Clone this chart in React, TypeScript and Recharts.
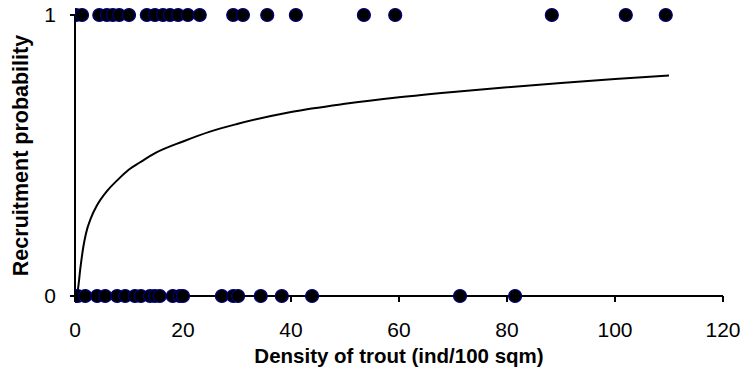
import React from "react";
import {
  ComposedChart,
  Line,
  Scatter,
  XAxis,
  YAxis,
} from "recharts";

// densities where recruitment was observed (y = 1)
const recruitedDensity = [
  0.2, 1.3, 4.5, 5.9, 7.0, 8.2, 10.0, 13.3, 14.8, 16.3, 17.6, 19.1, 20.9, 23.1,
  29.3, 31.1, 35.6, 40.9, 53.5, 59.3, 88.3, 102.0, 109.4,
];

// densities without recruitment (y = 0)
const notRecruitedDensity = [
  0.0, 0.5, 1.9, 4.1, 5.6, 7.8, 9.3, 11.1, 12.2, 13.9, 14.8, 15.7, 18.1, 19.4,
  20.0, 27.2, 29.3, 30.2, 34.4, 38.3, 43.9, 71.3, 81.5,
];

// fitted curve
const curveDensity = [0, 0.5, 1, 1.5, 2, 3, 4, 6, 8, 10, 12, 15, 20, 25, 30, 40, 50, 60, 70, 80, 90, 100, 110];
const curveProb = [0, 0.02, 0.1, 0.17, 0.22, 0.28, 0.32, 0.375, 0.415, 0.45, 0.475, 0.51, 0.55, 0.585, 0.612, 0.655, 0.684, 0.707, 0.726, 0.743, 0.758, 0.772, 0.785];

const xTicks = [0, 20, 40, 60, 80, 100, 120];
const yTicks = [0, 1];

const font = "'Liberation Sans', Arial, sans-serif";

const pointsOne = recruitedDensity.map((x) => ({ x, y: 1 }));
const pointsZero = notRecruitedDensity.map((x) => ({ x, y: 0 }));
const curve = curveDensity.map((x, i) => ({ x, y: curveProb[i] }));

const Dot = (props: any) => {
  const { cx, cy } = props;
  if (cx == null || cy == null) return <g />;
  return <circle cx={cx} cy={cy} r={6.5} fill="#000000" stroke="#000080" strokeWidth={1.2} />;
};

export default function App() {
  return (
    <div style={{ position: "absolute", left: 0, top: 0, fontFamily: font }}>
      <ComposedChart
        width={742}
        height={380}
        margin={{ top: 15, right: 19, bottom: 54, left: 15 }}
      >
        <XAxis
          type="number"
          dataKey="x"
          domain={[0, 120]}
          ticks={xTicks}
          allowDataOverflow
          height={30}
          stroke="#000"
          strokeWidth={2}
          tickSize={6}
          tickMargin={20}
          tick={{ fill: "#000", fontSize: 21, fontFamily: font }}
          label={{
            value: "Density of trout (ind/100 sqm)",
            position: "insideBottom",
            offset: -37,
            style: { fill: "#000", fontSize: 20.5, fontWeight: "bold", fontFamily: font },
          }}
        />
        <YAxis
          type="number"
          dataKey="y"
          domain={[0, 1]}
          ticks={yTicks}
          width={60}
          stroke="#000"
          strokeWidth={2}
          tickSize={5}
          tickMargin={14}
          tick={{ fill: "#000", fontSize: 21, fontFamily: font }}
          label={{
            value: "Recruitment probability",
            angle: -90,
            position: "insideLeft",
            offset: 5,
            style: { textAnchor: "middle", fill: "#000", fontSize: 21.5, fontWeight: "bold", fontFamily: font },
          }}
        />
        <Line
          data={curve}
          dataKey="y"
          type="monotone"
          stroke="#000"
          strokeWidth={2}
          dot={false}
          isAnimationActive={false}
        />
        <Scatter data={pointsOne} dataKey="y" shape={<Dot />} isAnimationActive={false} />
        <Scatter data={pointsZero} dataKey="y" shape={<Dot />} isAnimationActive={false} />
      </ComposedChart>
    </div>
  );
}
